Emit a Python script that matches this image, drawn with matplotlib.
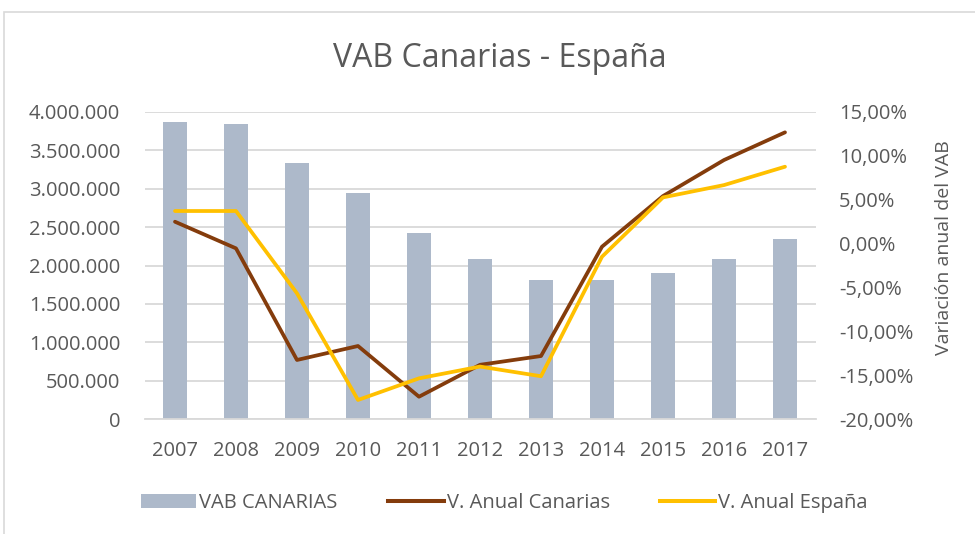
import matplotlib
matplotlib.use("Agg")
import matplotlib.pyplot as plt
from matplotlib.patches import Rectangle
from matplotlib.lines import Line2D
from matplotlib.patches import Patch

years = ["2007", "2008", "2009", "2010", "2011", "2012", "2013", "2014", "2015", "2016", "2017"]
vab_canarias = [3866000, 3840000, 3333000, 2939000, 2423000, 2081000, 1815000, 1807000, 1899000, 2081000, 2349000]
var_canarias = [2.48, -0.55, -13.25, -11.66, -17.43, -13.8, -12.8, -0.36, 5.4, 9.5, 12.65]
var_espana = [3.7, 3.7, -5.67, -17.8, -15.34, -14.0, -15.1, -1.5, 5.25, 6.65, 8.74]

left_ticks = [0, 500000, 1000000, 1500000, 2000000, 2500000, 3000000, 3500000, 4000000]
left_labels = ["0", "500.000", "1.000.000", "1.500.000", "2.000.000", "2.500.000", "3.000.000", "3.500.000", "4.000.000"]
right_ticks = [-20, -15, -10, -5, 0, 5, 10, 15]
right_labels = ["-20,00%", "-15,00%", "-10,00%", "-5,00%", "0,00%", "5,00%", "10,00%", "15,00%"]

TXT = "#595959"
plt.rcParams['font.family'] = ['Open Sans', 'DejaVu Sans']
FS = 14.5

W, H = 975, 534
fig = plt.figure(figsize=(W / 100, H / 100), dpi=100)
ax = fig.add_axes([144.5 / W, 1 - 419.3 / H, (815.5 - 144.5) / W, (419.3 - 111.7) / H])

x = list(range(len(years)))
ax.bar(x, vab_canarias, width=0.39, color="#adb9ca", zorder=2)
ax.set_ylim(0, 4000000)
ax.set_xlim(-0.5, len(years) - 0.5)
ax.set_yticks(left_ticks)
ax.set_yticklabels(left_labels)
ax.set_xticks(x)
ax.set_xticklabels(years)
ax.grid(axis='y', color="#d9d9d9", linewidth=1.3, zorder=0)
ax.set_axisbelow(True)
for s in ["top", "right", "left"]:
    ax.spines[s].set_visible(False)
ax.spines["bottom"].set_color("#d9d9d9")
ax.spines["bottom"].set_linewidth(1.3)
ax.tick_params(axis='both', length=0, labelsize=FS, colors=TXT)
ax.tick_params(axis='y', pad=17.5)
ax.tick_params(axis='x', pad=15.5)

ax2 = ax.twinx()
ax2.plot(x, var_canarias, color="#843c0c", linewidth=2.7, solid_capstyle='round', zorder=3)
ax2.plot(x, var_espana, color="#ffc000", linewidth=2.7, solid_capstyle='round', zorder=4)
ax2.set_ylim(-20, 15)
ax2.set_yticks(right_ticks)
ax2.set_yticklabels(right_labels)
for s in ["top", "right", "left", "bottom"]:
    ax2.spines[s].set_visible(False)
ax2.tick_params(axis='y', length=0, labelsize=FS, colors=TXT, pad=17)

fig.text(944 / W, 1 - 248 / H, "Variación anual del VAB", rotation=90, ha='center', va='center',
         fontsize=14, color=TXT)

fig.text(500 / W, 1 - 67 / H, "VAB Canarias - España", ha='center', va='baseline', fontsize=23, color=TXT)

handles = [Patch(facecolor="#adb9ca"),
           Line2D([0], [0], color="#843c0c", linewidth=2.9),
           Line2D([0], [0], color="#ffc000", linewidth=2.9)]
labels = ["VAB CANARIAS", "V. Anual Canarias", "V. Anual España"]
leg = fig.legend(handles, labels, loc='center', bbox_to_anchor=(504.5 / W, 1 - 503 / H), ncol=3,
                 frameon=False, fontsize=FS, handlelength=2.75, handletextpad=0.15, columnspacing=2.5,
                 borderpad=0, borderaxespad=0)
for t in leg.get_texts():
    t.set_color(TXT)

fig.patches.append(Rectangle((4 / W, -0.1), 1.2, 1 - 12 / H + 0.1, transform=fig.transFigure,
                             fill=False, edgecolor="#d9d9d9", linewidth=1.2))

fig.savefig("out.png", dpi=100)
